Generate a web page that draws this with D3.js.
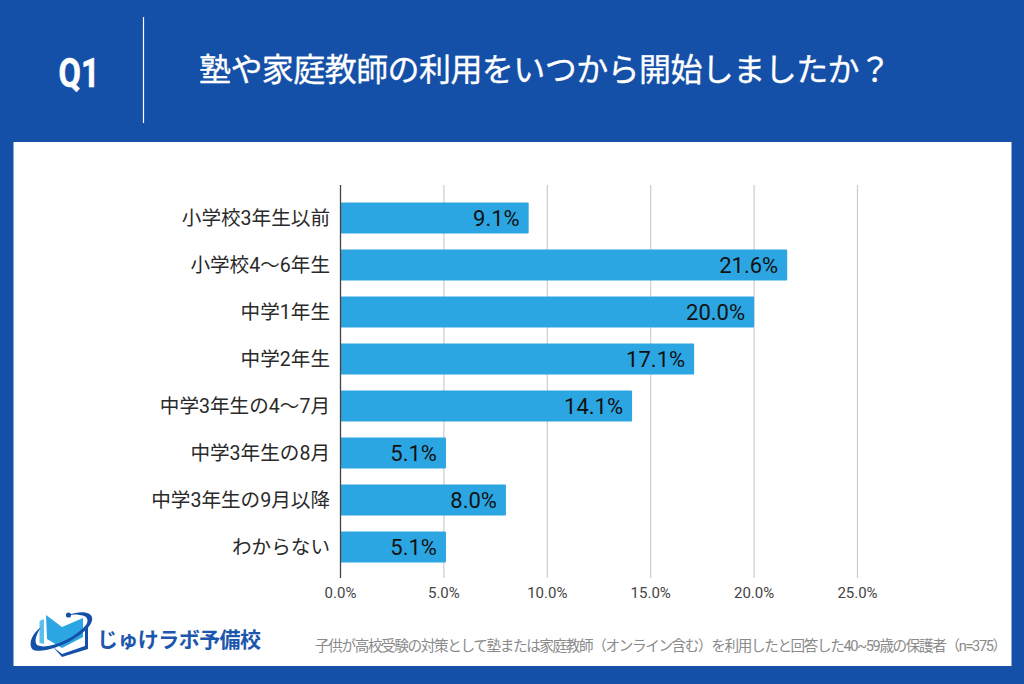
<!DOCTYPE html>
<html lang="ja"><head><meta charset="utf-8">
<script src="https://cdn.jsdelivr.net/npm/d3@7"></script>
<style>html,body{margin:0;padding:0;background:#1550a8}svg{display:block}
text{font-family:Roboto,"Noto Sans CJK JP",sans-serif}</style></head><body>
<svg id="c" width="1024" height="684"></svg>
<script>
const categories=["小学校3年生以前","小学校4～6年生","中学1年生","中学2年生","中学3年生の4～7月","中学3年生の8月","中学3年生の9月以降","わからない"];
const values=[9.1,21.6,20.0,17.1,14.1,5.1,8.0,5.1];
const xTicks=[0,5,10,15,20,25];
const titleText="塾や家庭教師の利用をいつから開始しましたか？";
const qLabel="Q1";
const footnote="子供が高校受験の対策として塾または家庭教師（オンライン含む）を利用したと回答した40~59歳の保護者（n=375）";
const brand="じゅけラボ予備校";

const svg=d3.select("#c");
svg.append("rect").attr("width",1024).attr("height",684).attr("fill","#1550a8");
svg.append("rect").attr("x",13.5).attr("y",142).attr("width",998).attr("height",524).attr("fill","#fff");
svg.append("line").attr("x1",143.5).attr("x2",143.5).attr("y1",17).attr("y2",123).attr("stroke","#fff").attr("stroke-width",1.2);
svg.append("text").attr("x",79).attr("y",86.5).attr("text-anchor","middle").attr("fill","#fff")
  .attr("font-size",41).attr("font-weight",700).attr("stroke","#fff").attr("stroke-width",0.6)
  .attr("textLength",41).attr("lengthAdjust","spacingAndGlyphs").text(qLabel);
svg.append("text").attr("x",199).attr("y",81).attr("fill","#fff").attr("font-size",32).attr("font-weight",400)
  .attr("stroke","#fff").attr("stroke-width",0.3)
  .attr("textLength",692).attr("lengthAdjust","spacing").text(titleText);

const x=d3.scaleLinear().domain([0,25]).range([340.5,857.5]);
const y=d3.scaleBand().domain(categories).range([194.5,570.5]).paddingInner(0.34).paddingOuter(0.17);

const grid=svg.append("g");
grid.selectAll("line").data(xTicks.filter(d=>d>0)).join("line")
  .attr("x1",d=>x(d)).attr("x2",d=>x(d)).attr("y1",185).attr("y2",578)
  .attr("stroke","#cccccc").attr("stroke-width",1.2);

svg.append("g").selectAll("rect").data(values).join("rect")
  .attr("x",x(0)).attr("y",(d,i)=>y(categories[i])).attr("width",d=>x(d)-x(0)).attr("height",y.bandwidth())
  .attr("rx",1).attr("fill","#2ca6e2");

svg.append("g").selectAll("text").data(values).join("text")
  .attr("x",d=>x(d)-9).attr("y",(d,i)=>y(categories[i])+y.bandwidth()/2+7.5)
  .attr("text-anchor","end").attr("font-size",22).attr("font-weight",400).attr("fill","#111").text(d=>d.toFixed(1)+"%");

svg.append("line").attr("x1",x(0)).attr("x2",x(0)).attr("y1",185).attr("y2",578).attr("stroke","#444").attr("stroke-width",1.3);

svg.append("g").selectAll("text").data(categories).join("text")
  .attr("x",330).attr("y",d=>y(d)+y.bandwidth()/2+6.5).attr("text-anchor","end")
  .attr("font-size",19.6).attr("font-weight",400).attr("fill","#2a2a2a").text(d=>d);

svg.append("g").selectAll("text").data(xTicks).join("text")
  .attr("x",d=>x(d)).attr("y",598).attr("text-anchor","middle")
  .attr("font-size",15).attr("fill","#444").text(d=>d.toFixed(1)+"%");

svg.append("text").attr("x",315).attr("y",651).attr("fill","#8a8a8a")
  .attr("font-size",14.6).attr("letter-spacing",-1.37).text(footnote);

// logo
const logo=svg.append("g");
logo.append("path").attr("d","M39.5 621L44 619V644L39.5 643Z").attr("fill","#5cc0ec");
logo.append("path").attr("d","M46 615L62 627L83 618V637L62 648L47 639Z").attr("fill","#2ca6e2");
logo.append("path").attr("d","M53 647L62 654L85 646V629L88 626V649L62 657Z").attr("fill","#1550a8");
logo.append("path").attr("d","M32 649C28 642 33 633 41 627C36 635 34 641 37 645C46 650 72 641 86 625C90 619 86 615 79 615C75 614 72 615 69 615C78 611 90 611 92 617C94 624 84 633 72 640C58 648 38 654 32 649Z").attr("fill","#1550a8");
logo.append("circle").attr("cx",68.5).attr("cy",615).attr("r",2.6).attr("fill","#1550a8");
svg.append("text").attr("x",97).attr("y",647).attr("fill","#1c57ad").attr("font-size",21).attr("font-weight",700)
  .attr("textLength",164).attr("lengthAdjust","spacing").text(brand);
</script></body></html>
